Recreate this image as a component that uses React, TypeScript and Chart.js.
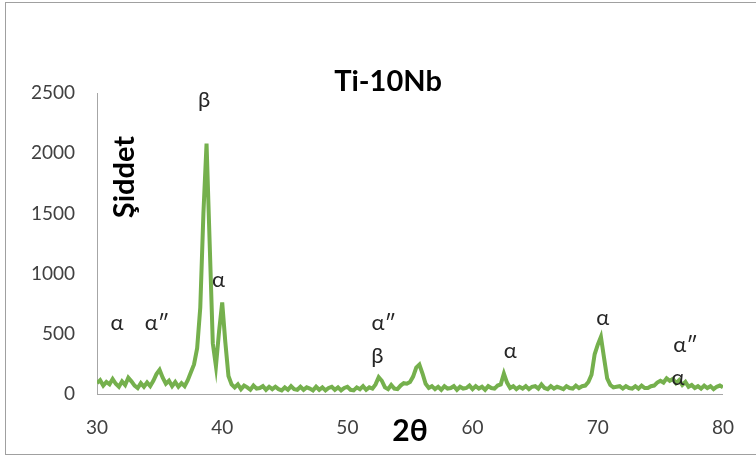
import React, { useEffect, useRef } from "react";
import { Chart, registerables } from "chart.js";

Chart.register(...registerables);

const ANGLE_START = 30;
const ANGLE_STEP = 0.25;

// Intensity (counts) every 0.25° from 30° to 80°
const intensity: number[] = [
  90, 115, 70, 100,
  80, 125, 85, 60,
  105, 75, 135, 105,
  70, 50, 90, 60,
  95, 65, 110, 165,
  200, 135, 85, 110,
  65, 100, 60, 90,
  65, 115, 180, 245,
  380, 720, 1500, 2080,
  1250, 420, 230, 520,
  760, 430, 150, 80,
  55, 80, 40, 70,
  55, 35, 70, 45,
  50, 65, 35, 60,
  40, 60, 40, 30,
  55, 35, 65, 40,
  35, 60, 35, 55,
  45, 30, 60, 35,
  55, 30, 50, 60,
  35, 55, 30, 50,
  60, 35, 30, 55,
  40, 65, 35, 55,
  45, 80, 140, 110,
  55, 40, 75, 45,
  40, 70, 90, 85,
  100, 145, 220, 245,
  170, 85, 50, 65,
  40, 60, 35, 65,
  45, 50, 65, 35,
  60, 45, 50, 70,
  40, 65, 45, 60,
  35, 65, 50, 45,
  70, 80, 170, 95,
  50, 65, 40, 60,
  45, 65, 40, 60,
  65, 45, 80, 50,
  40, 65, 45, 60,
  50, 40, 65, 50,
  45, 70, 50, 65,
  70, 100, 160, 330,
  410, 475, 300, 130,
  75, 55, 60, 65,
  45, 65, 50, 45,
  65, 45, 70, 50,
  50, 65, 70, 95,
  110, 95, 130, 110,
  125, 90, 115, 75,
  100, 60, 75, 50,
  65, 45, 70, 50,
  65, 40, 60, 70,
  55,
];

// Phase annotations: text, 2θ position, intensity position
const peakLabels: string[] = ["α", "α″", "β", "α", "α″", "β", "α", "α", "α″", "α"];
const peakLabelX: number[] = [31.6, 34.8, 38.55, 39.7, 52.9, 52.4, 63.0, 70.4, 77.0, 76.4];
const peakLabelY: number[] = [590, 590, 2440, 950, 590, 320, 355, 630, 405, 130];

const X_MIN = 30;
const X_MAX = 80;
const X_STEP = 10;
const Y_MIN = 0;
const Y_MAX = 2500;
const Y_STEP = 500;

const TITLE = "Ti-10Nb";
const Y_TITLE = "Şiddet";
const X_TITLE = "2θ";

const FONT = "Lato, 'Open Sans', sans-serif";

export default function App() {
  const ref = useRef<HTMLCanvasElement | null>(null);

  useEffect(() => {
    document.body.style.margin = "0";
    const canvas = ref.current;
    if (!canvas) return;

    const points = intensity.map((v, i) => ({ x: ANGLE_START + i * ANGLE_STEP, y: v }));

    const textPlugin = {
      id: "texts",
      beforeDraw(chart: any) {
        const ctx = chart.ctx;
        ctx.save();
        ctx.fillStyle = "#ffffff";
        ctx.fillRect(0, 0, chart.width, chart.height);
        ctx.strokeStyle = "#a0a0a0";
        ctx.lineWidth = 1;
        ctx.strokeRect(5.5, 2.5, 800, 452);
        ctx.restore();
      },
      afterDraw(chart: any) {
        const ctx = chart.ctx;
        const xs = chart.scales.x;
        const ys = chart.scales.y;
        ctx.save();
        ctx.fillStyle = "#262626";
        ctx.textAlign = "center";
        ctx.textBaseline = "middle";
        ctx.font = `22px ${FONT}`;
        peakLabels.forEach((t, i) => {
          ctx.fillText(t, xs.getPixelForValue(peakLabelX[i]), ys.getPixelForValue(peakLabelY[i]));
        });
        ctx.fillStyle = "#000000";
        ctx.font = `bold 29px ${FONT}`;
        ctx.fillText(TITLE, 388, 82);
        ctx.font = `bold 30px ${FONT}`;
        ctx.fillText(X_TITLE, 410, 431);
        ctx.translate(125, 177);
        ctx.rotate(-Math.PI / 2);
        ctx.font = `bold 29px ${FONT}`;
        ctx.fillText(Y_TITLE, 0, 0);
        ctx.restore();
      },
    };

    const chart = new Chart(canvas, {
      type: "line",
      data: {
        datasets: [
          {
            data: points,
            borderColor: "#75b04d",
            borderWidth: 4,
            pointRadius: 0,
            tension: 0,
            fill: false,
          },
        ],
      },
      options: {
        animation: false,
        responsive: false,
        devicePixelRatio: 1,
        layout: { padding: { left: 0, top: 93, right: 28, bottom: 0 } },
        plugins: { legend: { display: false }, tooltip: { enabled: false }, title: { display: false } },
        scales: {
          x: {
            type: "linear",
            min: X_MIN,
            max: X_MAX,
            grid: { display: false, drawTicks: false },
            border: { display: true, color: "#a6a6a6", width: 1 },
            ticks: {
              stepSize: X_STEP,
              padding: 22,
              color: "#404040",
              font: { family: FONT, size: 19 },
              maxRotation: 0,
              callback: (v: any) => String(v),
            },
            afterFit: (s: any) => {
              s.height = 65;
            },
          },
          y: {
            min: Y_MIN,
            max: Y_MAX,
            grid: { display: false, drawTicks: false },
            border: { display: true, color: "#a6a6a6", width: 1 },
            ticks: {
              stepSize: Y_STEP,
              padding: 22,
              color: "#404040",
              font: { family: FONT, size: 19 },
              callback: (v: any) => String(v),
            },
            afterFit: (s: any) => {
              s.width = 97;
            },
          },
        },
      },
      plugins: [textPlugin],
    });

    return () => chart.destroy();
  }, []);

  return (
    <div style={{ position: "absolute", left: 0, top: 0, width: 756, height: 459 }}>
      <canvas ref={ref} width={756} height={459} style={{ width: 756, height: 459 }} />
    </div>
  );
}
